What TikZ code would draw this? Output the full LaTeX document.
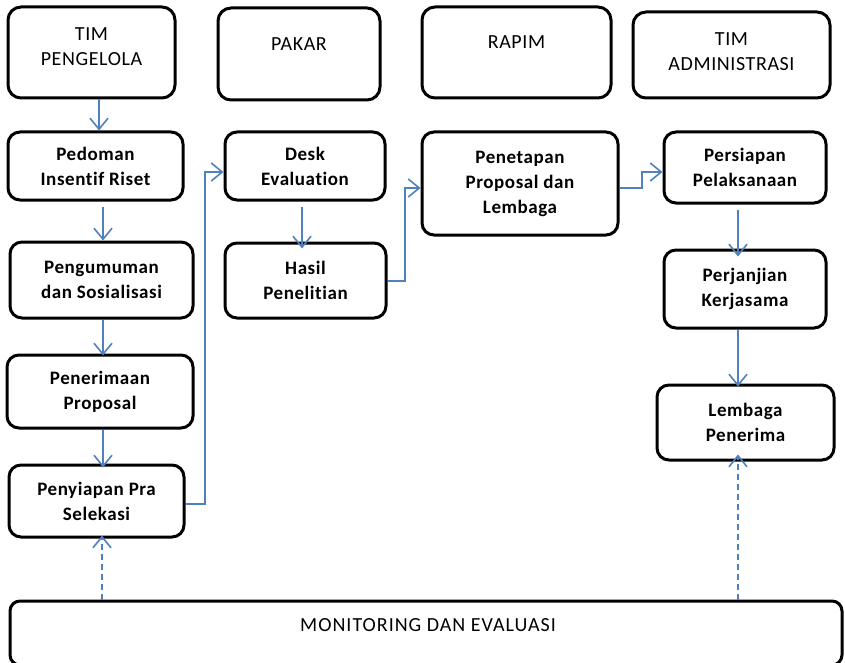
\documentclass[tikz,border=0pt]{standalone}
\usepackage{fontspec}
\setmainfont[Ligatures=NoCommon]{Carlito}
\usetikzlibrary{arrows.meta}
\definecolor{flow}{HTML}{4F81BD}
\tikzset{
  hdr/.style={draw=black, line width=3pt, rounded corners=13pt, inner sep=0pt},
  proc/.style={draw=black, line width=3pt, rounded corners=12pt, inner sep=0pt,
    align=center, font=\fontsize{19}{25}\selectfont\bfseries\addfontfeature{LetterSpace=3}},
  hdrtext/.style={align=center, inner sep=0pt, font=\fontsize{20}{25}\selectfont\addfontfeature{LetterSpace=3}},
  flowarrow/.style={draw=flow, line width=1.6pt, -{Straight Barb[length=11pt,width=18pt,line width=1.6pt]}},
  monarrow/.style={flowarrow, dash pattern=on 6pt off 4pt},
}
\begin{document}
\begin{tikzpicture}[x=1pt,y=-1pt]
\useasboundingbox (0,0) rectangle (845,663);
% header boxes
\node[hdr, minimum width=167pt, minimum height=91pt] (h1) at (91.5,52.5) {};
\node[hdrtext] (h1t) at (91.5,47) {TIM\\PENGELOLA};
\node[hdr, minimum width=162pt, minimum height=92pt] (h2) at (299,54) {};
\node[hdrtext] (h2t) at (299,44) {PAKAR};
\node[hdr, minimum width=189pt, minimum height=91pt] (h3) at (516.5,52.5) {};
\node[hdrtext] (h3t) at (516.5,42) {RAPIM};
\node[hdr, minimum width=197pt, minimum height=86pt] (h4) at (731.5,55) {};
\node[hdrtext] (h4t) at (731.5,52) {TIM\\ADMINISTRASI};
% process boxes
\node[proc, minimum width=175pt, minimum height=68pt] (p1) at (95.5,166) {Pedoman\\Insentif Riset};
\node[proc, minimum width=183pt, minimum height=76pt] (p2) at (101.5,280) {Pengumuman\\dan Sosialisasi};
\node[proc, minimum width=186pt, minimum height=73pt] (p3) at (100,391.5) {Penerimaan\\Proposal};
\node[proc, minimum width=175pt, minimum height=72pt] (p4) at (96.5,501) {Penyiapan Pra\\Selekasi};
\node[proc, minimum width=160pt, minimum height=68pt] (d1) at (305,166) {Desk\\Evaluation};
\node[proc, minimum width=161pt, minimum height=75pt] (d2) at (305.5,280.5) {Hasil\\Penelitian};
\node[proc, minimum width=196pt, minimum height=103pt] (r1) at (520,183.5) {Penetapan\\Proposal dan\\Lembaga};
\node[proc, minimum width=162pt, minimum height=71pt] (a1) at (745,167.5) {Persiapan\\Pelaksanaan};
\node[proc, minimum width=162pt, minimum height=78pt] (a2) at (745,289) {Perjanjian\\Kerjasama};
\node[proc, minimum width=177pt, minimum height=75pt] (a3) at (745.5,422.5) {Lembaga\\Penerima};
% monitoring
\node[hdr, rounded corners=10pt, minimum width=832pt, minimum height=64pt] (m) at (426,633) {};
\node[hdrtext, font=\fontsize{20}{25}\selectfont\addfontfeature{LetterSpace=5}] (mt) at (428,625) {MONITORING DAN EVALUASI};
% arrows
\draw[flowarrow] (h1.south -| 99,0) -- (p1.north -| 99,0);
\draw[flowarrow, shorten <=5pt] (p1.south -| 103,0) -- (p2.north -| 103,0);
\draw[flowarrow] (p2.south -| 103,0) -- ([yshift=-2pt]p3.north -| 103,0);
\draw[flowarrow] (p3.south -| 103,0) -- ([yshift=-4pt]p4.north -| 103,0);
\draw[flowarrow] (p4.east |- 0,504) -- (205,504) -- (205,172) -- (d1.west |- 0,172);
\draw[flowarrow, shorten <=5pt] (d1.south -| 302,0) -- ([yshift=-7pt]d2.north -| 302,0);
\draw[flowarrow] (d2.east |- 0,281) -- (405,281) -- (405,188) -- (r1.west |- 0,188);
\draw[flowarrow] (r1.east |- 0,188) -- (642,188) -- (642,172) -- (a1.west |- 0,172);
\draw[flowarrow, shorten <=5pt] (a1.south -| 738,0) -- ([yshift=-8pt]a2.north -| 738,0);
\draw[flowarrow] (a2.south -| 738,0) -- ([yshift=-3pt]a3.north -| 738,0);
\draw[monarrow] (m.north -| 102,0) -- ([yshift=3pt]p4.south -| 102,0);
\draw[monarrow] (m.north -| 738,0) -- ([yshift=7pt]a3.south -| 738,0);
\end{tikzpicture}
\end{document}
